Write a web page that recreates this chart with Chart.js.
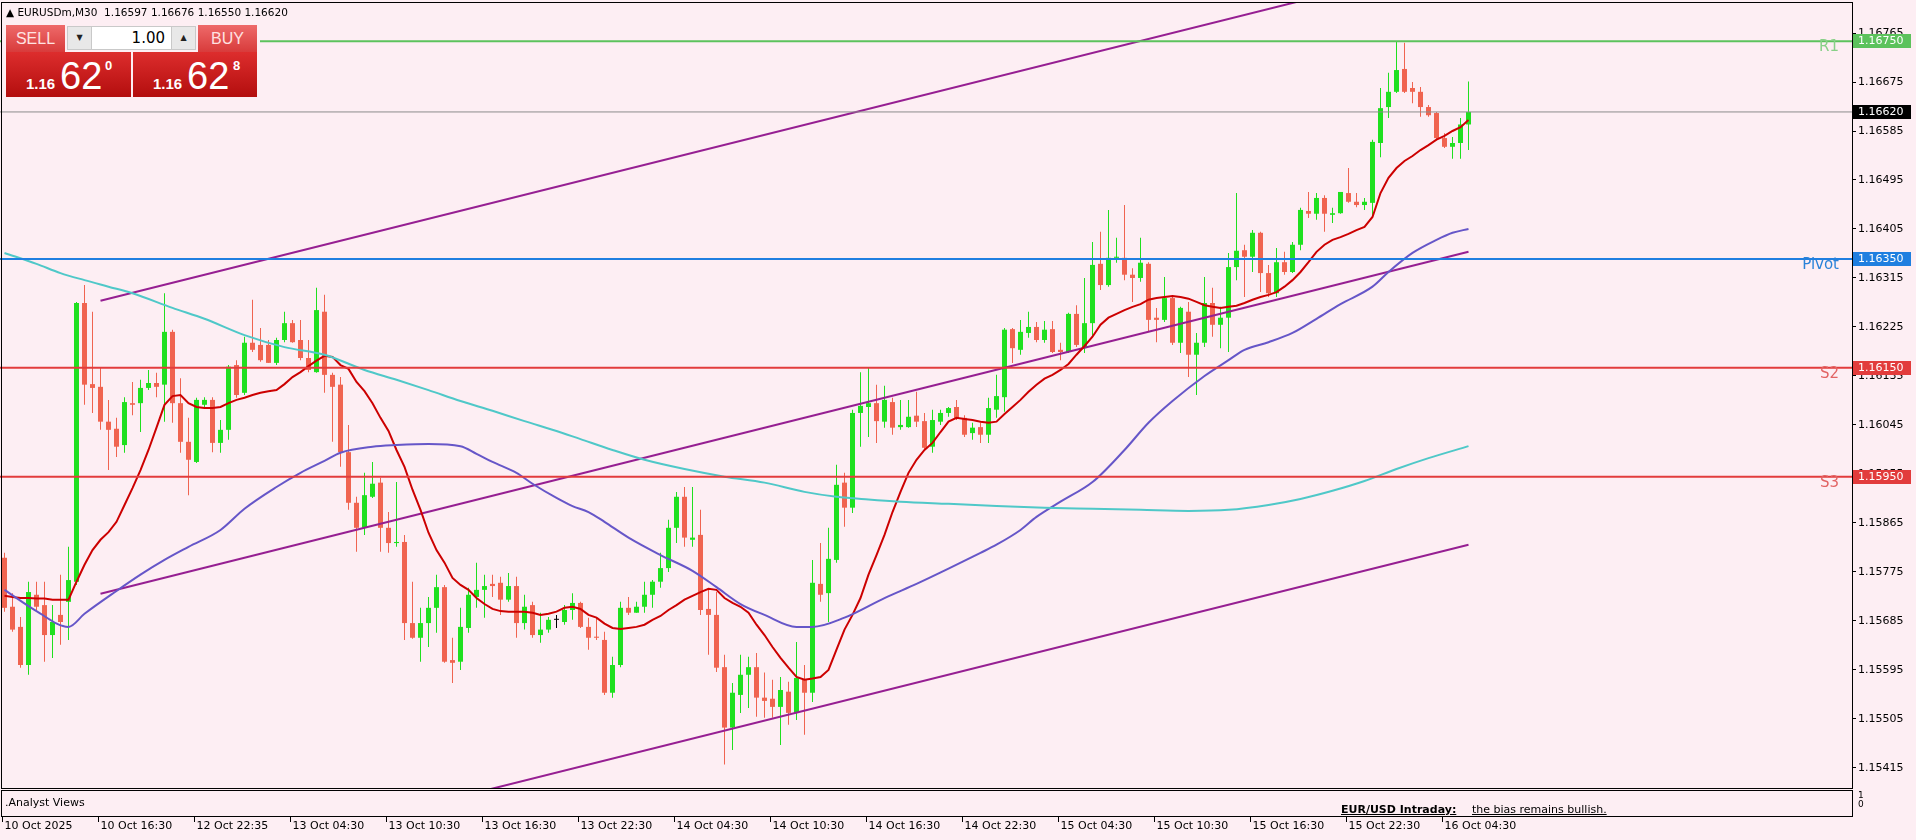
<!DOCTYPE html>
<html>
<head>
<meta charset="utf-8">
<title>EURUSDm,M30</title>
<script src="https://cdn.jsdelivr.net/npm/chart.js@4.4.1/dist/chart.umd.min.js"></script>
<style>
  html, body { margin: 0; padding: 0; background: #fdeef3; }
  #wrap { position: relative; width: 1916px; height: 840px; overflow: hidden; background: #fdeef3; }
  #chart { position: absolute; left: 0; top: 0; }
  .txt { position: absolute; font-family: 'DejaVu Sans', sans-serif; font-size: 11px; color: #000; white-space: nowrap; line-height: 13px; }
  #panelBg { position: absolute; left: 2px; top: 22px; width: 258px; height: 78px; background: #fdeef3; }
  .btn { position: absolute; top: 25px; width: 59px; height: 27px; background: linear-gradient(#ee6a6a, #d83b3b); color: #ffe2e2; font: 16px 'Liberation Sans Narrow', 'Liberation Sans', sans-serif; text-align: center; line-height: 27px; }
  .arr { position: absolute; top: 26px; width: 25px; height: 24px; background: #e8e8e8; border: 1px solid #c9c9c9; box-sizing: border-box; font: 8px 'DejaVu Sans', sans-serif; text-align: center; line-height: 22px; color: #222; }
  #lot { position: absolute; left: 92px; top: 26px; width: 79px; height: 24px; background: #fff; border-top: 1px solid #c9c9c9; border-bottom: 1px solid #c9c9c9; box-sizing: border-box; font: 15px 'DejaVu Sans', sans-serif; text-align: right; padding-right: 6px; line-height: 22px; }
  .px { position: absolute; top: 52px; height: 45px; background: linear-gradient(#dd2d2d, #b30e0e); color: #fff; }
  .px span { position: absolute; line-height: 1; }
  .px .a { top: 23px; left: 20px; font: bold 15px 'Liberation Sans', sans-serif; }
  .px .b { top: 3px; left: 54px; font: 38px 'Liberation Sans', sans-serif; }
  .px .c { top: 6px; font: bold 13px 'Liberation Sans', sans-serif; }
</style>
</head>
<body>
<div id="wrap">
  <canvas id="chart" width="1916" height="840"></canvas>

  <div class="txt" style="left:6px; top:6px; font-size:10.5px;">&#9650; EURUSDm,M30&nbsp; 1.16597 1.16676 1.16550 1.16620</div>

  <div id="panelBg"></div>
  <div class="btn" style="left:6px;">SELL</div>
  <div class="arr" style="left:67px;">&#9660;</div>
  <div id="lot">1.00</div>
  <div class="arr" style="left:171px;">&#9650;</div>
  <div class="btn" style="left:198px;">BUY</div>
  <div class="px" style="left:6px; width:125px;"><span class="a">1.16</span><span class="b">62</span><span class="c" style="left:99px;">0</span></div>
  <div class="px" style="left:133px; width:124px;"><span class="a">1.16</span><span class="b">62</span><span class="c" style="left:100px;">8</span></div>

  <div class="txt" style="left:5px; top:796px;">.Analyst Views</div>
  <div class="txt" style="left:1341px; top:803px; font-weight:bold; text-decoration:underline;">EUR/USD Intraday:</div>
  <div class="txt" style="left:1472px; top:803px; text-decoration:underline;">the bias remains bullish.</div>
  <div class="txt" style="left:1858px; top:791px; font-size:9px; line-height:9px;">1</div>
  <div class="txt" style="left:1858px; top:800px; font-size:9px; line-height:9px;">0</div>
</div>

<script>
// M30 candles, 10 Oct 2025 .. 16 Oct 04:30
const timeLabels = ['10 Oct 2025', '10 Oct 16:30', '12 Oct 22:35', '13 Oct 04:30', '13 Oct 10:30', '13 Oct 16:30',
  '13 Oct 22:30', '14 Oct 04:30', '14 Oct 10:30', '14 Oct 16:30', '14 Oct 22:30', '15 Oct 04:30',
  '15 Oct 10:30', '15 Oct 16:30', '15 Oct 22:30', '16 Oct 04:30'];
const tickIdx = [0, 12, 24, 36, 48, 60, 72, 84, 96, 108, 120, 132, 144, 156, 168, 180];
const yTicks = [1.15415, 1.15505, 1.15595, 1.15685, 1.15775, 1.15865, 1.15955, 1.16045,
  1.16135, 1.16225, 1.16315, 1.16405, 1.16495, 1.16585, 1.16675, 1.16765];

const opens = [
  1.15801,1.15711,1.15674,1.15604,1.15733,1.15714,1.15659,1.15696,1.15720,1.15757,
  1.16269,1.16120,1.16115,1.16051,1.16038,1.16008,1.16085,1.16085,1.16113,1.16122,
  1.16119,1.16216,1.16085,1.16014,1.15977,1.16082,1.16091,1.16012,1.16036,1.16155,
  1.16104,1.16196,1.16192,1.16192,1.16159,1.16201,1.16232,1.16201,1.16168,1.16142,
  1.16253,1.16137,1.16119,1.15995,1.15902,1.15856,1.15913,1.15939,1.15856,1.15828,
  1.15830,1.15681,1.15654,1.15681,1.15709,1.15747,1.15613,1.15610,1.15672,1.15729,
  1.15742,1.15753,1.15755,1.15724,1.15749,1.15681,1.15714,1.15659,1.15669,1.15687,
  1.15683,1.15705,1.15718,1.15674,1.15656,1.15650,1.15553,1.15604,1.15709,1.15700,
  1.15711,1.15733,1.15757,1.15782,1.15856,1.15913,1.15834,1.15843,1.15707,1.15696,
  1.15600,1.15489,1.15549,1.15586,1.15600,1.15544,1.15542,1.15527,1.15555,1.15516,
  1.15577,1.15553,1.15753,1.15736,1.15797,1.15939,1.15893,1.16067,1.16078,1.16085,
  1.16051,1.16087,1.16041,1.16041,1.16062,1.16052,1.16005,1.16051,1.16067,1.16078,
  1.16058,1.16030,1.16041,1.16027,1.16073,1.16096,1.16221,1.16183,1.16214,1.16225,
  1.16201,1.16221,1.16183,1.16179,1.16249,1.16188,1.16232,1.16341,1.16302,1.16352,
  1.16352,1.16321,1.16315,1.16341,1.16242,1.16238,1.16278,1.16196,1.16253,1.16174,
  1.16196,1.16269,1.16229,1.16242,1.16335,1.16366,1.16354,1.16398,1.16324,1.16287,
  1.16344,1.16326,1.16376,1.16438,1.16433,1.16462,1.16431,1.16434,1.16471,1.16455,
  1.16449,1.16453,1.16563,1.16629,1.16657,1.16699,1.16664,1.16657,1.16629,1.16618,
  1.16572,1.16556,1.16563,1.16597];
const highs = [
  1.15810,1.15736,1.15692,1.15757,1.15757,1.15757,1.15714,1.15770,1.15821,1.16271,
  1.16302,1.16253,1.16150,1.16091,1.16058,1.16096,1.16124,1.16128,1.16146,1.16141,
  1.16287,1.16220,1.16131,1.16058,1.16095,1.16096,1.16096,1.16054,1.16155,1.16164,
  1.16207,1.16275,1.16223,1.16201,1.16205,1.16253,1.16238,1.16238,1.16201,1.16297,
  1.16284,1.16141,1.16133,1.16045,1.15913,1.15957,1.15977,1.15948,1.15885,1.15940,
  1.15843,1.15757,1.15709,1.15729,1.15770,1.15751,1.15654,1.15709,1.15746,1.15792,
  1.15770,1.15770,1.15766,1.15773,1.15766,1.15733,1.15720,1.15700,1.15692,1.15696,
  1.15714,1.15736,1.15720,1.15691,1.15691,1.15665,1.15619,1.15720,1.15729,1.15720,
  1.15757,1.15760,1.15810,1.15871,1.15922,1.15931,1.15931,1.15889,1.15742,1.15738,
  1.15623,1.15571,1.15623,1.15619,1.15626,1.15590,1.15577,1.15582,1.15573,1.15646,
  1.15604,1.15797,1.15828,1.15856,1.15972,1.15957,1.16073,1.16142,1.16150,1.16119,
  1.16117,1.16095,1.16091,1.16091,1.16106,1.16067,1.16073,1.16073,1.16078,1.16091,
  1.16063,1.16049,1.16049,1.16095,1.16137,1.16223,1.16223,1.16238,1.16253,1.16234,
  1.16236,1.16236,1.16196,1.16251,1.16265,1.16315,1.16381,1.16400,1.16440,1.16389,
  1.16449,1.16333,1.16389,1.16344,1.16260,1.16317,1.16280,1.16262,1.16271,1.16214,
  1.16317,1.16297,1.16262,1.16361,1.16471,1.16376,1.16403,1.16400,1.16339,1.16370,
  1.16363,1.16381,1.16444,1.16473,1.16471,1.16467,1.16444,1.16473,1.16517,1.16471,
  1.16462,1.16569,1.16664,1.16692,1.16749,1.16747,1.16675,1.16666,1.16633,1.16620,
  1.16581,1.16574,1.16609,1.16676];
const lows = [
  1.15702,1.15665,1.15599,1.15586,1.15705,1.15610,1.15617,1.15641,1.15650,1.15751,
  1.16082,1.16067,1.16036,1.15962,1.15986,1.15994,1.16063,1.16032,1.16109,1.16096,
  1.16051,1.16049,1.15994,1.15916,1.15975,1.16078,1.15995,1.15994,1.16018,1.16095,
  1.16100,1.16179,1.16161,1.16159,1.16155,1.16197,1.16196,1.16164,1.16142,1.16141,
  1.16104,1.16014,1.15968,1.15889,1.15812,1.15843,1.15911,1.15812,1.15810,1.15821,
  1.15650,1.15652,1.15610,1.15637,1.15663,1.15608,1.15571,1.15595,1.15663,1.15709,
  1.15691,1.15729,1.15696,1.15720,1.15654,1.15669,1.15654,1.15645,1.15663,1.15672,
  1.15678,1.15687,1.15672,1.15632,1.15650,1.15549,1.15544,1.15600,1.15696,1.15700,
  1.15700,1.15709,1.15746,1.15775,1.15828,1.15821,1.15821,1.15696,1.15623,1.15591,
  1.15421,1.15448,1.15516,1.15525,1.15509,1.15507,1.15507,1.15457,1.15494,1.15503,
  1.15476,1.15536,1.15720,1.15683,1.15792,1.15858,1.15883,1.16005,1.16023,1.16012,
  1.16040,1.16027,1.16036,1.16040,1.16041,1.16001,1.15994,1.16045,1.16060,1.16054,
  1.16023,1.16018,1.16012,1.16012,1.16058,1.16069,1.16159,1.16174,1.16205,1.16197,
  1.16196,1.16177,1.16164,1.16177,1.16188,1.16177,1.16207,1.16293,1.16299,1.16343,
  1.16311,1.16271,1.16308,1.16216,1.16197,1.16234,1.16192,1.16177,1.16133,1.16100,
  1.16188,1.16207,1.16186,1.16179,1.16311,1.16280,1.16326,1.16289,1.16280,1.16280,
  1.16321,1.16324,1.16366,1.16425,1.16422,1.16400,1.16416,1.16433,1.16453,1.16445,
  1.16440,1.16427,1.16537,1.16609,1.16655,1.16655,1.16636,1.16611,1.16611,1.16569,
  1.16554,1.16534,1.16534,1.16550];
const closes = [
  1.15709,1.15669,1.15604,1.15738,1.15711,1.15659,1.15683,1.15683,1.15760,1.16269,
  1.16119,1.16113,1.16051,1.16036,1.16005,1.16087,1.16082,1.16113,1.16122,1.16115,
  1.16216,1.16085,1.16014,1.15981,1.16091,1.16091,1.16012,1.16036,1.16152,1.16100,
  1.16196,1.16183,1.16164,1.16159,1.16201,1.16232,1.16197,1.16168,1.16146,1.16256,
  1.16137,1.16115,1.15995,1.15902,1.15856,1.15916,1.15937,1.15856,1.15828,1.15830,
  1.15681,1.15654,1.15681,1.15709,1.15747,1.15610,1.15608,1.15674,1.15733,1.15742,
  1.15749,1.15749,1.15724,1.15749,1.15681,1.15711,1.15659,1.15669,1.15687,1.15687,
  1.15705,1.15718,1.15674,1.15654,1.15654,1.15553,1.15604,1.15709,1.15700,1.15711,
  1.15733,1.15757,1.15782,1.15856,1.15913,1.15838,1.15838,1.15705,1.15696,1.15599,
  1.15489,1.15553,1.15586,1.15600,1.15544,1.15538,1.15527,1.15558,1.15516,1.15580,
  1.15553,1.15755,1.15733,1.15799,1.15935,1.15893,1.16067,1.16080,1.16085,1.16052,
  1.16091,1.16040,1.16045,1.16060,1.16051,1.16003,1.16054,1.16067,1.16076,1.16058,
  1.16027,1.16040,1.16027,1.16076,1.16098,1.16220,1.16186,1.16216,1.16225,1.16201,
  1.16220,1.16179,1.16179,1.16249,1.16192,1.16232,1.16339,1.16302,1.16352,1.16354,
  1.16321,1.16315,1.16343,1.16238,1.16238,1.16278,1.16196,1.16260,1.16174,1.16196,
  1.16269,1.16229,1.16242,1.16335,1.16365,1.16354,1.16398,1.16324,1.16287,1.16344,
  1.16326,1.16376,1.16440,1.16433,1.16462,1.16433,1.16434,1.16473,1.16455,1.16449,
  1.16455,1.16565,1.16627,1.16657,1.16697,1.16657,1.16657,1.16629,1.16614,1.16572,
  1.16556,1.16563,1.16597,1.16620];

// fast moving average (red), one value per candle
const maFast = [
  1.15731,1.15729,1.15727,1.15727,1.15726,1.15726,1.15724,1.15724,
  1.15724,1.15757,1.15788,1.15815,1.15834,1.15848,1.15867,1.15898,
  1.15929,1.15962,1.15999,1.16040,1.16082,1.16098,1.16100,1.16085,
  1.16078,1.16076,1.16076,1.16078,1.16085,1.16091,1.16095,1.16100,
  1.16104,1.16107,1.16109,1.16120,1.16133,1.16142,1.16153,1.16163,
  1.16172,1.16170,1.16155,1.16148,1.16124,1.16107,1.16085,1.16058,
  1.16034,1.15999,1.15968,1.15926,1.15889,1.15847,1.15815,1.15792,
  1.15764,1.15751,1.15742,1.15727,1.15716,1.15707,1.15703,1.15702,
  1.15702,1.15702,1.15700,1.15696,1.15698,1.15702,1.15709,1.15711,
  1.15707,1.15696,1.15691,1.15680,1.15672,1.15670,1.15672,1.15674,
  1.15678,1.15687,1.15694,1.15705,1.15714,1.15724,1.15731,1.15738,
  1.15744,1.15742,1.15727,1.15718,1.15711,1.15700,1.15678,1.15659,
  1.15637,1.15617,1.15599,1.15582,1.15577,1.15579,1.15582,1.15595,
  1.15632,1.15669,1.15696,1.15727,1.15770,1.15806,1.15843,1.15885,
  1.15922,1.15957,1.15981,1.15999,1.16012,1.16032,1.16051,1.16058,
  1.16056,1.16054,1.16051,1.16049,1.16051,1.16065,1.16078,1.16091,
  1.16106,1.16119,1.16130,1.16137,1.16146,1.16157,1.16174,1.16190,
  1.16207,1.16229,1.16242,1.16249,1.16256,1.16262,1.16267,1.16275,
  1.16278,1.16280,1.16282,1.16280,1.16277,1.16271,1.16265,1.16262,
  1.16260,1.16262,1.16264,1.16269,1.16275,1.16280,1.16284,1.16289,
  1.16299,1.16311,1.16326,1.16344,1.16363,1.16376,1.16385,1.16390,
  1.16396,1.16403,1.16409,1.16427,1.16471,1.16499,1.16517,1.16530,
  1.16539,1.16550,1.16559,1.16569,1.16576,1.16585,1.16592,1.16605];

// medium moving average (slate blue), read at these candles
const maMidIdx = [0,4,8,10,14,17,20,23,27,30,34,37,40,42,46,49,53,57,59,61,
  64,66,69,71,73,75,78,82,86,89,92,95,99,101,105,110,114,118,122,124,
  127,129,132,136,140,143,146,150,153,155,158,161,164,167,171,173,176,179,181,183];
const maMid = [1.15742,1.15703,1.15674,1.15698,1.15740,1.15770,1.15797,1.15821,1.15852,1.15891,
  1.15931,1.15957,1.15979,1.15994,1.16005,1.16008,1.16010,1.16006,1.15992,1.15977,
  1.15957,1.15937,1.15911,1.15896,1.15885,1.15867,1.15838,1.15806,1.15777,1.15747,
  1.15716,1.15696,1.15674,1.15674,1.15691,1.15727,1.15753,1.15781,1.15810,1.15825,
  1.15852,1.15876,1.15904,1.15940,1.15999,1.16049,1.16089,1.16135,1.16164,1.16183,
  1.16197,1.16214,1.16240,1.16267,1.16299,1.16326,1.16361,1.16385,1.16398,1.16405];

// slow moving average (turquoise)
const maSlowIdx = [0,4,7,10,13,16,21,25,30,35,40,45,49,53,57,61,65,69,72,76,
  80,85,90,95,100,104,108,112,118,124,130,136,142,148,153,158,162,166,170,174,178,183];
const maSlow = [1.16361,1.16341,1.16324,1.16311,1.16299,1.16287,1.16260,1.16240,1.16210,1.16188,
  1.16174,1.16146,1.16128,1.16109,1.16089,1.16071,1.16052,1.16034,1.16019,1.15999,
  1.15981,1.15964,1.15950,1.15939,1.15922,1.15913,1.15908,1.15904,1.15900,1.15896,
  1.15893,1.15891,1.15889,1.15887,1.15889,1.15898,1.15909,1.15924,1.15942,1.15964,
  1.15984,1.16006];

// equidistant channel
const chanIdx = [12, 183];
const chanUpper = [1.16273, 1.16901];
const chanMid = [1.15735, 1.16363];
const chanLower = [1.15197, 1.15825];

// pivot levels
const levelNames = ['R1', 'Pivot', 'S2', 'S3'];
const levelValues = [1.16750, 1.16350, 1.16150, 1.15950];

const levelColors = ['#5cc25c', '#1f7fe0', '#e23c3c', '#e23c3c'];
const levelTextColors = ['#88d088', '#2a82d8', '#e26464', '#e26464'];
const bull = '#1fe01f', bear = '#f06450';
const xMin = -0.5625, xMax = 230.9375;

Chart.defaults.font.family = "'DejaVu Sans', sans-serif";
Chart.defaults.font.size = 11;
Chart.defaults.color = '#000';

const candleCol = opens.map((o, i) => closes[i] > o ? bull : (closes[i] < o ? bear : '#000'));
const bodies = opens.map((o, i) => ({ x: i, y: [o, closes[i]] }));
const wicks = opens.map((o, i) => ({ x: i, y: [lows[i], highs[i]] }));

function pts(idx, vals) {
    return idx.map((x, k) => ({ x: x, y: vals[k] }));
}
function flat(v) {
    return [{ x: xMin, y: v }, { x: xMax, y: v }];
}
function lineDs(data, color, width, smooth) {
    return {
        type: 'line', data: data, borderColor: color, borderWidth: width,
        pointRadius: 0, fill: false, order: 0,
        cubicInterpolationMode: smooth ? 'monotone' : 'default', tension: 0
    };
}

const datasets = [];
levelValues.forEach((v, k) => datasets.push(lineDs(flat(v), levelColors[k], 2)));
datasets.push(lineDs(flat(closes[closes.length - 1]), '#8c8c8c', 1));
datasets.push(lineDs(pts(maSlowIdx, maSlow), '#4fc8c8', 2, true));
datasets.push(lineDs(pts(maMidIdx, maMid), '#6656c8', 2, true));
datasets.push(lineDs(maFast.map((v, i) => ({ x: i, y: v })), '#cc0000', 2));
datasets.push(lineDs(pts(chanIdx, chanUpper), '#961f92', 2));
datasets.push(lineDs(pts(chanIdx, chanMid), '#961f92', 2));
datasets.push(lineDs(pts(chanIdx, chanLower), '#961f92', 2));
datasets.push({ type: 'bar', data: bodies, backgroundColor: candleCol, grouped: false,
    maxBarThickness: 5, minBarLength: 1, order: 1 });
datasets.push({ type: 'bar', data: wicks, backgroundColor: candleCol, grouped: false,
    maxBarThickness: 1, order: 2 });

const overlay = {
    id: 'overlay',
    afterDraw(chart) {
        const ctx = chart.ctx;
        const xs = chart.scales.x, ys = chart.scales.y;
        const right = chart.chartArea.right;
        ctx.save();
        ctx.strokeStyle = '#000';
        ctx.lineWidth = 1;
        // main window and indicator window frames
        ctx.strokeRect(1.5, 2.5, right - 1, 786);
        ctx.strokeRect(1.5, 790.5, right - 1, 26);
        // time scale tick marks
        ctx.beginPath();
        tickIdx.forEach(v => {
            const px = Math.round(xs.getPixelForValue(v)) - 2.5;
            ctx.moveTo(px, 817);
            ctx.lineTo(px, 822);
        });
        ctx.stroke();
        // level names
        ctx.font = "15px 'DejaVu Sans'";
        ctx.textAlign = 'right';
        ctx.textBaseline = 'top';
        levelNames.forEach((n, k) => {
            ctx.fillStyle = levelTextColors[k];
            ctx.fillText(n, right - 13, Math.round(ys.getPixelForValue(levelValues[k])) - 1);
        });
        // price tags
        ctx.font = "11px 'DejaVu Sans'";
        ctx.textAlign = 'left';
        ctx.textBaseline = 'middle';
        const tags = levelValues.map((v, k) => [v, levelColors[k]]);
        tags.push([closes[closes.length - 1], '#000']);
        tags.forEach(t => {
            const py = Math.round(ys.getPixelForValue(t[0]));
            ctx.fillStyle = t[1];
            ctx.fillRect(right + 1, py - 7, 58, 14);
            ctx.fillStyle = '#fff';
            ctx.fillText(t[0].toFixed(5), right + 6, py + 0.5);
        });
        ctx.restore();
    }
};

new Chart(document.getElementById('chart').getContext('2d'), {
    type: 'bar',
    data: { datasets: datasets },
    options: {
        responsive: false,
        animation: false,
        devicePixelRatio: 1,
        events: [],
        layout: { padding: { top: 2, left: 0, right: 0, bottom: 0 } },
        plugins: { legend: { display: false }, tooltip: { enabled: false } },
        scales: {
            x: {
                type: 'linear', min: xMin, max: xMax, offset: false,
                afterBuildTicks: s => { s.ticks = tickIdx.map(v => ({ value: v })); },
                afterFit: s => { s.height = 52; s.paddingLeft = 0; s.paddingRight = 0; },
                grid: { display: false, drawTicks: false },
                border: { display: false },
                ticks: {
                    autoSkip: false, maxRotation: 0, align: 'start', padding: 32,
                    callback: v => timeLabels[tickIdx.indexOf(v)]
                }
            },
            y: {
                type: 'linear', position: 'right', min: 1.15378, max: 1.16822,
                afterBuildTicks: s => { s.ticks = yTicks.map(v => ({ value: v })); },
                afterFit: s => { s.width = 64; s.paddingTop = 0; s.paddingBottom = 0; },
                grid: { drawOnChartArea: false, drawTicks: true, tickLength: 4, color: '#000' },
                border: { display: false },
                ticks: { padding: 2, callback: v => v.toFixed(5) }
            }
        }
    },
    plugins: [overlay]
});
</script>
</body>
</html>
